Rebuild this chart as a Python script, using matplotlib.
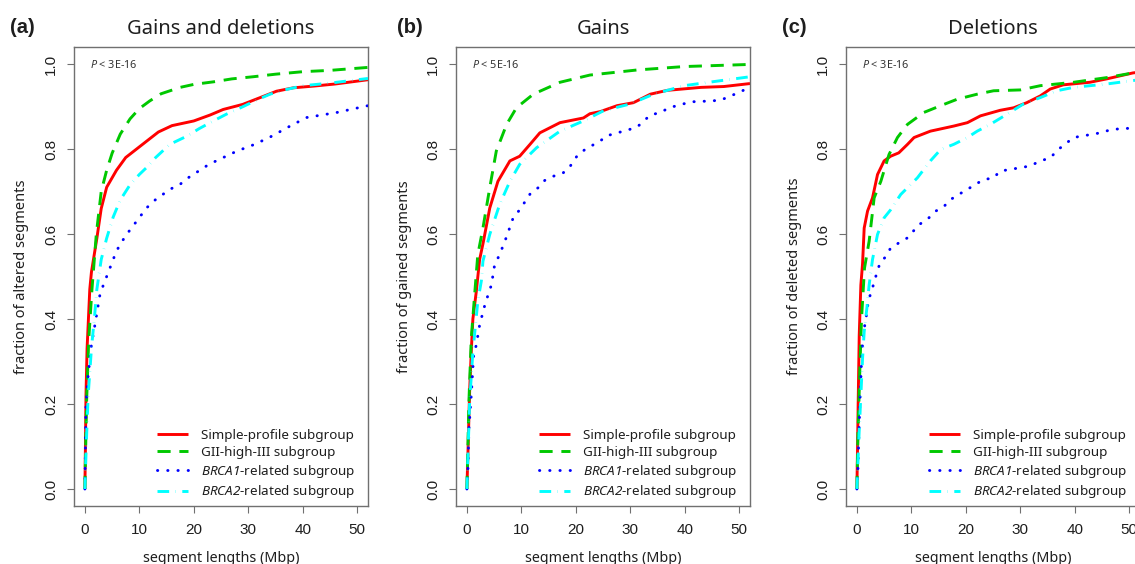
import matplotlib
matplotlib.use("Agg")
import matplotlib.pyplot as plt

# ---------------- data ----------------
panel_letters = ["(a)", "(b)", "(c)"]
panel_titles = ["Gains and deletions", "Gains", "Deletions"]
y_labels = ["fraction of altered segments", "fraction of gained segments",
            "fraction of deleted segments"]
p_texts = ["3E-16", "5E-16", "3E-16"]
series_labels = ["Simple-profile subgroup", "GII-high-III subgroup",
                 r"$BRCA1$-related subgroup", r"$BRCA2$-related subgroup"]
x_ticks = [0, 10, 20, 30, 40, 50]
y_ticks = [0.0, 0.2, 0.4, 0.6, 0.8, 1.0]

# Panel (a) gains and deletions
red_a_x = [0, 0.1, 0.2, 0.4, 0.9, 1.2, 2.2, 3.0, 4.0, 5.8, 7.5, 9.5, 11.5, 13.5, 16, 20, 23, 25.4, 29, 32, 35.2, 38.3, 42, 46, 52]
red_a_y = [0, 0.10, 0.22, 0.33, 0.47, 0.51, 0.59, 0.66, 0.71, 0.75, 0.78, 0.80, 0.82, 0.84, 0.855, 0.866, 0.88, 0.893, 0.905, 0.92, 0.936, 0.944, 0.948, 0.953, 0.963]
green_a_x = [0, 0.15, 0.3, 0.7, 1.3, 2.1, 3.0, 4.0, 5.0, 6.5, 8.3, 10, 11.9, 14, 17.5, 20, 23.6, 27, 30.9, 35, 40.1, 45, 52]
green_a_y = [0, 0.10, 0.20, 0.35, 0.47, 0.60, 0.70, 0.75, 0.79, 0.835, 0.871, 0.895, 0.913, 0.93, 0.945, 0.952, 0.958, 0.965, 0.970, 0.976, 0.982, 0.985, 0.992]
blue_a_x = [0, 0.1, 0.2, 0.6, 1.2, 1.84, 2.8, 4.0, 5.5, 6.4, 8.3, 9.5, 11.3, 12.9, 15.6, 17.5, 18.7, 22.8, 27.9, 31.2, 34.3, 37.7, 40.7, 46.3, 52]
blue_a_y = [0, 0.10, 0.20, 0.268, 0.339, 0.386, 0.46, 0.50, 0.55, 0.575, 0.61, 0.63, 0.661, 0.68, 0.705, 0.717, 0.73, 0.764, 0.795, 0.811, 0.83, 0.854, 0.874, 0.886, 0.902]
cyan_a_x = [0, 0.3, 0.6, 1.2, 1.8, 2.2, 3.0, 4.0, 5.2, 6.5, 8.3, 10, 11.3, 13, 15.6, 18.7, 21, 23.6, 26, 29.1, 31.5, 34, 37, 40.1, 45, 52]
cyan_a_y = [0, 0.12, 0.22, 0.33, 0.41, 0.47, 0.54, 0.59, 0.64, 0.68, 0.716, 0.74, 0.756, 0.78, 0.811, 0.83, 0.848, 0.866, 0.882, 0.90, 0.915, 0.929, 0.94, 0.949, 0.955, 0.966]

# Panel (b) gains
red_b_x = [0, 0.2, 0.5, 0.8, 1.1, 1.73, 2.34, 3.0, 4.2, 5.7, 7.9, 9.7, 11.6, 13.4, 17.1, 21.4, 22.6, 24.5, 27.6, 30.6, 33.7, 36.8, 43, 47.2, 52]
red_b_y = [0, 0.087, 0.229, 0.323, 0.40, 0.465, 0.54, 0.58, 0.661, 0.724, 0.772, 0.783, 0.811, 0.838, 0.862, 0.873, 0.883, 0.888, 0.902, 0.909, 0.929, 0.938, 0.945, 0.947, 0.954]
green_b_x = [0, 0.15, 0.37, 0.8, 1.42, 2.0, 2.95, 4.2, 5.4, 7.3, 9.1, 12.2, 17.1, 22.6, 31.3, 39.9, 52]
green_b_y = [0, 0.08, 0.205, 0.354, 0.457, 0.551, 0.614, 0.709, 0.795, 0.858, 0.897, 0.929, 0.957, 0.974, 0.986, 0.994, 0.999]
blue_b_x = [0, 0.2, 0.37, 0.8, 1.24, 1.73, 2.34, 3.3, 3.9, 4.5, 5.1, 6.0, 7.3, 8.5, 9.7, 11.6, 13.1, 14.3, 15.9, 17.7, 19, 20.2, 21.7, 24.5, 25.7, 27.6, 29.4, 31.3, 33.7, 35.6, 37.1, 39.2, 41.1, 44.8, 46.6, 48.5, 52]
blue_b_y = [0, 0.05, 0.142, 0.22, 0.315, 0.339, 0.386, 0.433, 0.457, 0.48, 0.528, 0.551, 0.594, 0.638, 0.657, 0.694, 0.709, 0.726, 0.736, 0.744, 0.76, 0.783, 0.799, 0.819, 0.831, 0.838, 0.844, 0.852, 0.88, 0.886, 0.897, 0.904, 0.911, 0.913, 0.915, 0.925, 0.945]
cyan_b_x = [0, 0.2, 0.5, 1.1, 2.0, 2.66, 2.95, 4.2, 6.0, 7.9, 9.7, 12.8, 17.1, 21.4, 25.1, 30, 34.3, 39.9, 45, 52]
cyan_b_y = [0, 0.08, 0.205, 0.323, 0.441, 0.49, 0.536, 0.599, 0.669, 0.724, 0.764, 0.803, 0.842, 0.866, 0.89, 0.906, 0.929, 0.949, 0.958, 0.97]

# Panel (c) deletions
red_c_x = [0, 0.1, 0.24, 0.43, 0.73, 1.04, 1.34, 1.96, 2.87, 3.79, 5.0, 6.2, 7.7, 9.3, 10.5, 13.5, 17.8, 20.3, 22.7, 26.3, 28.8, 31.2, 33.7, 35.5, 37.9, 42.8, 45.9, 50.7, 52]
red_c_y = [0, 0.08, 0.205, 0.362, 0.48, 0.53, 0.614, 0.654, 0.685, 0.74, 0.772, 0.783, 0.791, 0.811, 0.827, 0.842, 0.854, 0.862, 0.878, 0.891, 0.897, 0.909, 0.925, 0.941, 0.951, 0.957, 0.965, 0.979, 0.981]
green_c_x = [0, 0.2, 0.55, 0.85, 1.4, 2.25, 3.17, 4.4, 5.9, 7.45, 9.3, 12.3, 15.4, 18.4, 22.1, 25.1, 30, 33.7, 39.8, 45.9, 50.7, 52]
green_c_y = [0, 0.13, 0.284, 0.40, 0.52, 0.583, 0.685, 0.724, 0.787, 0.827, 0.858, 0.886, 0.902, 0.917, 0.929, 0.937, 0.939, 0.949, 0.957, 0.968, 0.979, 0.981]
blue_c_x = [0, 0.2, 0.4, 0.6, 0.85, 1.04, 1.52, 1.83, 2.07, 2.56, 3.17, 3.6, 4.2, 5.3, 6.2, 7.7, 9.3, 11.4, 12.9, 14.5, 16, 17.2, 18.7, 20.3, 21.8, 23.3, 25.1, 26.3, 28.2, 30, 31.8, 33.7, 35.5, 37, 38.2, 39.8, 41.6, 44.7, 46.8, 48.9, 52]
blue_c_y = [0, 0.05, 0.142, 0.22, 0.30, 0.339, 0.394, 0.413, 0.441, 0.461, 0.486, 0.506, 0.53, 0.547, 0.567, 0.579, 0.591, 0.622, 0.634, 0.654, 0.665, 0.681, 0.693, 0.705, 0.717, 0.728, 0.732, 0.748, 0.752, 0.756, 0.76, 0.772, 0.779, 0.799, 0.811, 0.827, 0.831, 0.838, 0.846, 0.848, 0.850]
cyan_c_x = [0, 0.4, 0.73, 1.04, 1.34, 1.83, 2.25, 2.56, 2.87, 3.79, 5.0, 6.2, 8.05, 9.3, 11.1, 13.5, 15.4, 17.8, 20.3, 22.1, 24.5, 27.6, 30.6, 33.7, 36.7, 39.8, 45.9, 50.7, 52]
cyan_c_y = [0, 0.13, 0.22, 0.307, 0.37, 0.425, 0.48, 0.51, 0.54, 0.599, 0.638, 0.657, 0.693, 0.709, 0.732, 0.772, 0.799, 0.811, 0.827, 0.842, 0.858, 0.882, 0.906, 0.921, 0.937, 0.945, 0.953, 0.961, 0.963]

panels = [
    [(red_a_x, red_a_y), (green_a_x, green_a_y), (blue_a_x, blue_a_y), (cyan_a_x, cyan_a_y)],
    [(red_b_x, red_b_y), (green_b_x, green_b_y), (blue_b_x, blue_b_y), (cyan_b_x, cyan_b_y)],
    [(red_c_x, red_c_y), (green_c_x, green_c_y), (blue_c_x, blue_c_y), (cyan_c_x, cyan_c_y)],
]

# ---------------- style ----------------
plt.rcParams["font.family"] = ["Noto Sans", "DejaVu Sans"]
plt.rcParams["mathtext.fontset"] = "custom"
# math segments are used only for italic words (gene names, P)
plt.rcParams["mathtext.rm"] = "Noto Sans:italic"
plt.rcParams["mathtext.it"] = "Noto Sans:italic"

colors = ["#FF0000", "#00C800", "#0000FF", "#00FFFF"]
styles = ["-", (0, (4.5, 3.0)), (0, (0.1, 3.4)), (0, (4.0, 2.2, 0.1, 2.2))]
caps = ["butt", "butt", "round", "butt"]
text_col = "#1E1E1E"
spine_col = "#707070"

W, H = 1135, 564
fig = plt.figure(figsize=(W / 100, H / 100), dpi=100)

ax_lefts = [74, 456, 846]
ax_w, ax_top, ax_bot = 294, 47, 506
letter_x = [10, 397, 782]

for i in range(3):
    ax = fig.add_axes([ax_lefts[i] / W, 1 - ax_bot / H, ax_w / W, (ax_bot - ax_top) / H])
    handles = []
    for j, (xs, ys) in enumerate(panels[i]):
        ln, = ax.plot(xs, ys, color=colors[j], linestyle=styles[j], lw=2.1,
                      dash_capstyle=caps[j], solid_capstyle="butt",
                      label=series_labels[j], zorder=2 + j)
        handles.append(ln)
    ax.set_xlim(-2, 52)
    ax.set_ylim(-0.04, 1.04)
    ax.set_xticks(x_ticks)
    ax.set_yticks(y_ticks)
    ax.set_xticklabels([str(v) for v in x_ticks], family="Liberation Sans",
                       fontsize=11, color=text_col)
    ax.set_yticklabels([f"{v:.1f}" for v in y_ticks], family="Liberation Sans",
                       fontsize=11, color=text_col, rotation=90, va="center", ha="right")
    ax.tick_params(axis="both", direction="out", length=5.3, width=0.8, color=spine_col)
    ax.tick_params(axis="x", pad=7)
    ax.tick_params(axis="y", pad=6.3)
    for s in ax.spines.values():
        s.set_color(spine_col)
        s.set_linewidth(1.0)

    ax.set_title(panel_titles[i], fontsize=14.5, color=text_col, pad=9)
    fig.text(letter_x[i] / W, 1 - 33 / H, panel_letters[i], fontsize=14.5,
             family="Liberation Sans", fontweight="bold", color=text_col,
             va="baseline", ha="left")
    fig.text((ax_lefts[i] - 52) / W, 1 - 276.5 / H, y_labels[i], rotation=90,
             fontsize=10.5, color=text_col, ha="center", va="center")
    fig.text((ax_lefts[i] + ax_w / 2) / W, 1 - 558 / H, "segment lengths (Mbp)",
             fontsize=10.3, color=text_col, ha="center", va="center")
    ax.text(0.054, 0.961, r"$P$ < " + p_texts[i], transform=ax.transAxes,
            fontsize=7.8, color="#333333", ha="left", va="center")

    leg = ax.legend(handles=handles, loc="lower right", bbox_to_anchor=(0.955, 0.012),
                    frameon=False, fontsize=9.7, handlelength=2.3, handletextpad=0.9,
                    labelspacing=0.28, borderpad=0, borderaxespad=0)
    for t in leg.get_texts():
        t.set_color(text_col)

fig.savefig("out.png", dpi=100)
